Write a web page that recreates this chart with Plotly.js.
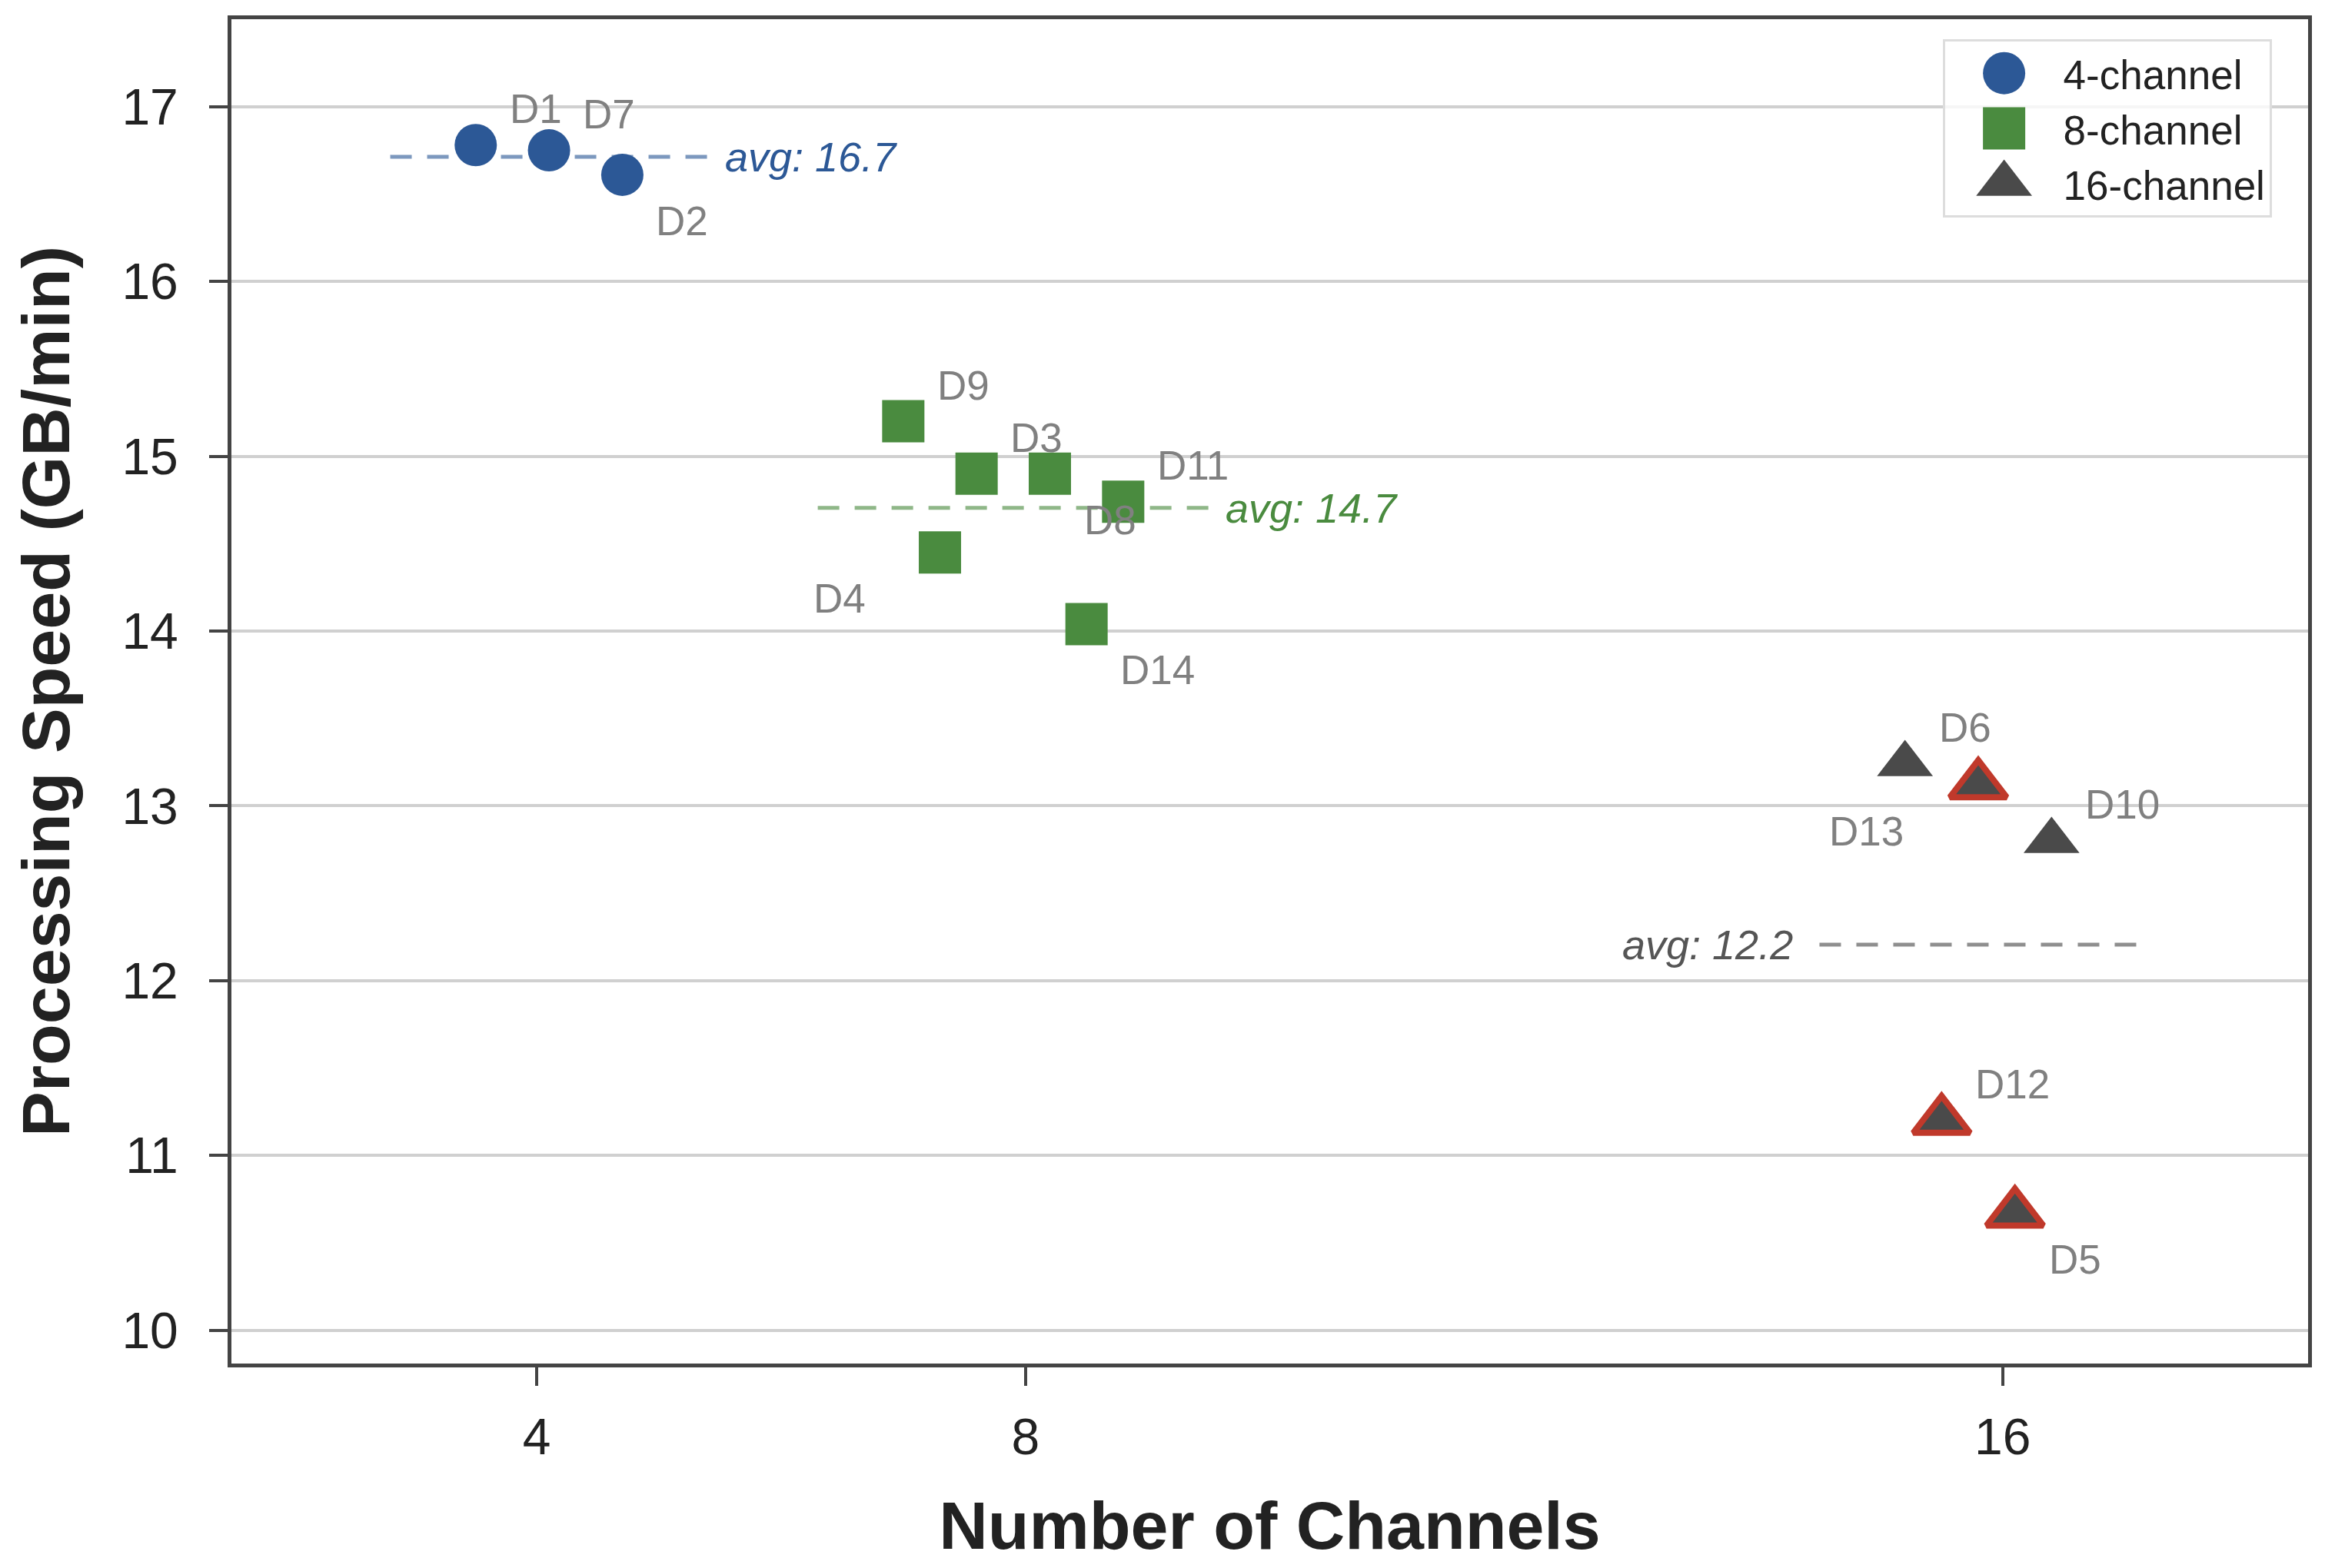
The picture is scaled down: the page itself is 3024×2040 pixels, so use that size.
<!DOCTYPE html>
<html>
<head>
<meta charset="utf-8">
<script src="https://cdn.plot.ly/plotly-3.0.1.min.js"></script>
<style>
  html, body { margin: 0; padding: 0; background: #ffffff; }
  #chart { width: 3024px; height: 2040px; }
</style>
</head>
<body>
<div id="chart"></div>
<script>
// --- Data ---
const groupNames = ['4-channel', '8-channel', '16-channel'];
const groupIds = [
    ['D1', 'D7', 'D2'],
    ['D9', 'D3', 'D8', 'D11', 'D4', 'D14'],
    ['D6', 'D13', 'D10', 'D12', 'D5']
];
// x already carries the horizontal jitter around 4 / 8 / 16 channels
const groupX = [
    [3.5, 4.1, 4.7],
    [7.0, 7.6, 8.2, 8.8, 7.3, 8.5],
    [15.2, 15.8, 16.4, 15.5, 16.1]
];
const groupSpeed = [
    [16.78, 16.75, 16.61],
    [15.20, 14.90, 14.90, 14.74, 14.45, 14.04],
    [13.24, 13.12, 12.80, 11.20, 10.67]
];
const flaggedIds = ['D13', 'D12', 'D5'];
const xTicks = [4, 8, 16];
const yTicks = [10, 11, 12, 13, 14, 15, 16, 17];

// --- Styling ---
const FONT = 'Liberation Sans, Arial, sans-serif';
const groupColors = ['#2c5896', '#4a8b3f', '#4a4a4a'];
const avgLineColors = ['rgba(44,88,150,0.62)', 'rgba(74,139,63,0.62)', 'rgba(74,74,74,0.62)'];
const avgTextColors = ['#2c5896', '#4a8b3f', '#555555'];
const symbols = ['circle', 'square', 'triangle-up'];
const markerSizes = [55, 55, 63];
const avgLabelSide = ['right', 'right', 'left'];
const linePad = 0.7;

// where each point label sits relative to its marker
const labelPlacement = {
    D1: 'ur', D7: 'ur', D2: 'lr',
    D9: 'ur', D3: 'ur', D8: 'lr', D11: 'ur', D4: 'll', D14: 'lr',
    D6: 'ur', D13: 'll', D10: 'ur', D12: 'ur', D5: 'lr'
};
const labelOffsets = {
    ur: { xshift: 42, yshift: 47, xanchor: 'left' },
    lr: { xshift: 42, yshift: -60, xanchor: 'left' },
    ll: { xshift: -95, yshift: -60, xanchor: 'right' }
};

const mean = arr => arr.reduce((a, b) => a + b, 0) / arr.length;

const traces = [];
const annotations = [];

// average lines first so the markers sit on top
groupNames.forEach((name, g) => {
    const avg = mean(groupSpeed[g]);
    const x0 = Math.min(...groupX[g]) - linePad;
    const x1 = Math.max(...groupX[g]) + linePad;
    traces.push({
        x: [x0, x1],
        y: [avg, avg],
        mode: 'lines',
        type: 'scatter',
        showlegend: false,
        hoverinfo: 'skip',
        line: { color: avgLineColors[g], width: 5, dash: '28px,20px' }
    });
    const right = avgLabelSide[g] === 'right';
    annotations.push({
        x: right ? x1 : x0,
        y: avg,
        xref: 'x', yref: 'y',
        text: 'avg: ' + avg.toFixed(1),
        showarrow: false,
        xanchor: right ? 'left' : 'right',
        yanchor: 'middle',
        xshift: right ? 20 : -32,
        font: { family: FONT, size: 54, color: avgTextColors[g], style: 'italic' }
    });
});

groupNames.forEach((name, g) => {
    traces.push({
        x: groupX[g],
        y: groupSpeed[g],
        text: groupIds[g],
        mode: 'markers',
        type: 'scatter',
        name: name,
        marker: { symbol: symbols[g], size: markerSizes[g], color: groupColors[g], line: { width: 0 } }
    });

    groupIds[g].forEach((id, i) => {
        const off = labelOffsets[labelPlacement[id]];
        annotations.push({
            x: groupX[g][i],
            y: groupSpeed[g][i],
            xref: 'x', yref: 'y',
            text: id,
            showarrow: false,
            xanchor: off.xanchor,
            yanchor: 'middle',
            xshift: off.xshift,
            yshift: off.yshift,
            font: { family: FONT, size: 53, color: '#808080' }
        });
    });
});

// red outline over the flagged 16-channel devices
const fx = [], fy = [];
groupIds[2].forEach((id, i) => {
    if (flaggedIds.includes(id)) {
        fx.push(groupX[2][i]);
        fy.push(groupSpeed[2][i]);
    }
});
traces.push({
    x: fx,
    y: fy,
    mode: 'markers',
    type: 'scatter',
    showlegend: false,
    marker: { symbol: 'triangle-up', size: 64, color: groupColors[2], line: { color: '#c0392b', width: 8 } }
});

const axisCommon = {
    showline: true,
    mirror: true,
    linecolor: '#444444',
    linewidth: 5,
    ticks: 'outside',
    ticklen: 24,
    tickwidth: 4,
    tickcolor: '#444444',
    zeroline: false,
    automargin: false,
    tickfont: { family: FONT, size: 66, color: '#222222' }
};

const layout = {
    width: 3024,
    height: 2040,
    paper_bgcolor: '#ffffff',
    plot_bgcolor: '#ffffff',
    margin: { l: 301, r: 22, t: 25, b: 266 },
    font: { family: FONT, color: '#222222' },
    xaxis: Object.assign({}, axisCommon, {
        range: [1.5, 18.5],
        tickmode: 'array',
        tickvals: xTicks,
        ticktext: xTicks.map(String),
        showgrid: false,
        ticklabelstandoff: 10,
        title: { text: 'Number of Channels', standoff: 50, font: { family: FONT, size: 88, weight: 'bold', color: '#222222' } }
    }),
    yaxis: Object.assign({}, axisCommon, {
        range: [9.81, 17.5],
        tickmode: 'array',
        tickvals: yTicks,
        ticktext: yTicks.map(String),
        showgrid: true,
        gridcolor: '#d0d0d0',
        gridwidth: 4,
        ticklabelstandoff: 27,
        title: { text: 'Processing Speed (GB/min)', standoff: 40, font: { family: FONT, size: 88, weight: 'bold', color: '#222222' } }
    }),
    legend: {
        x: 0.824, y: 0.985,
        xanchor: 'left', yanchor: 'top',
        bgcolor: 'rgba(255,255,255,0.8)',
        bordercolor: '#dddddd',
        borderwidth: 3,
        font: { family: FONT, size: 53, color: '#222222' },
        itemwidth: 144
    },
    annotations: annotations,
    showlegend: true
};

// legend markers are capped at 16px by plotly, scale them to match the plot
const legendScale = [55 / 16, 55 / 16, 63 / 16];

Plotly.newPlot('chart', traces, layout, { staticPlot: true, displayModeBar: false }).then(gd => {
    gd.querySelectorAll('.legend .traces').forEach((tr, i) => {
        tr.querySelectorAll('path.scatterpts').forEach(p => {
            const t = p.getAttribute('transform') || '';
            p.setAttribute('transform', t + ' scale(' + legendScale[i] + ')');
        });
    });
});
</script>
</body>
</html>
